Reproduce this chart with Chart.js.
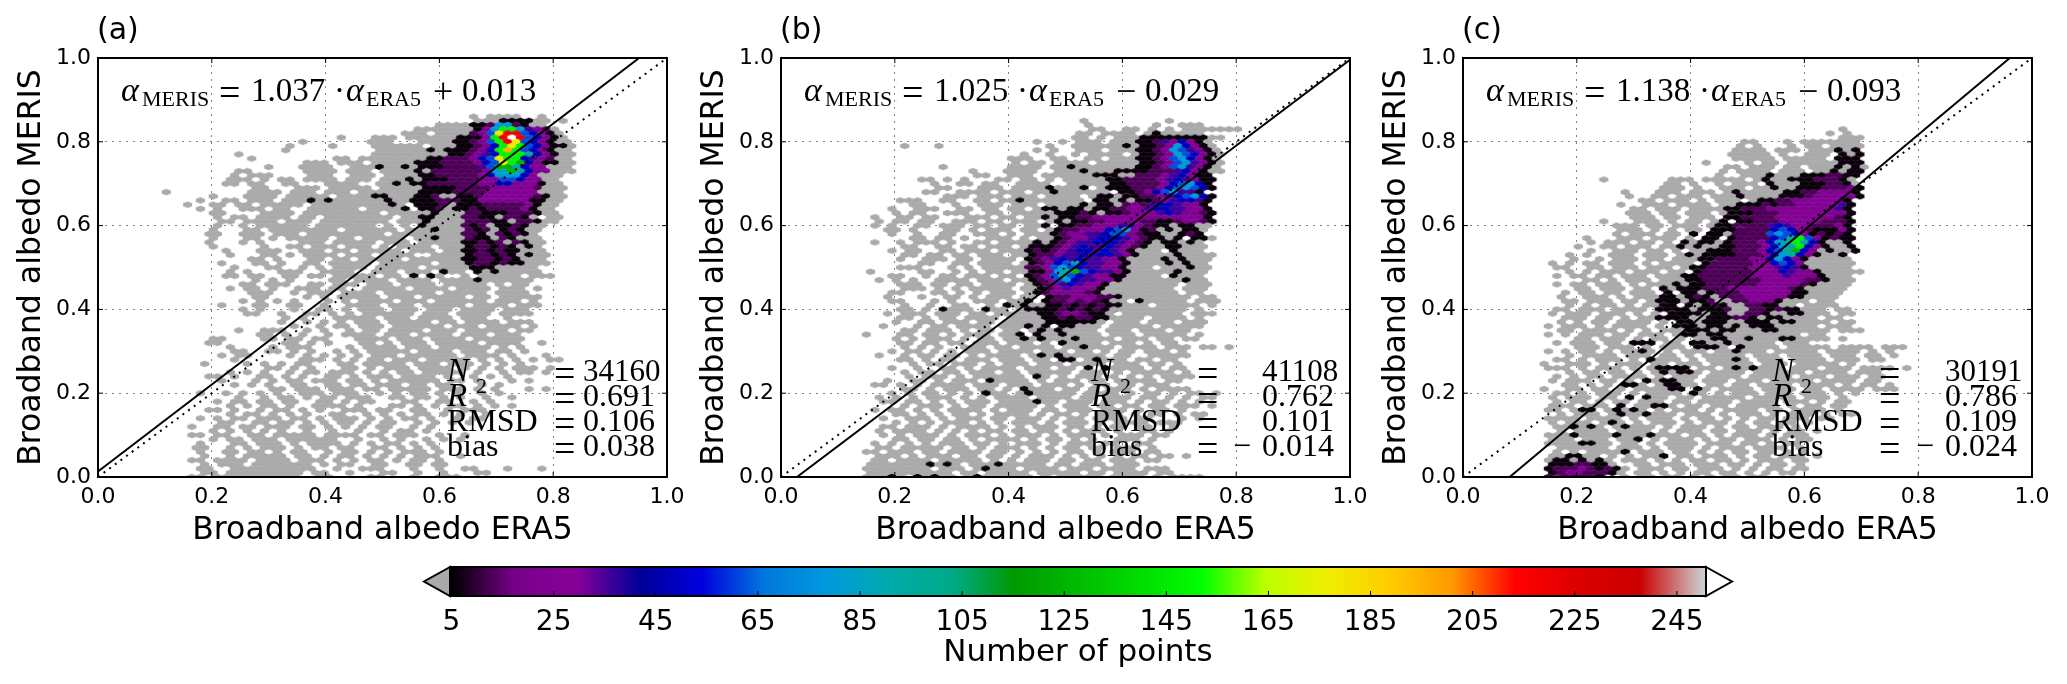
<!DOCTYPE html>
<html>
<head>
<meta charset="utf-8">
<title>Broadband albedo ERA5 vs MERIS</title>
<script src="https://cdn.jsdelivr.net/npm/chart.js@4"></script>
<style>
  body { margin: 0; background: #fff; width: 2067px; height: 684px; overflow: hidden; position: relative; }
  canvas { position: absolute; }
</style>
</head>
<body>
<canvas id="panelA" style="left:0;top:0"></canvas>
<canvas id="panelB" style="left:683px;top:0"></canvas>
<canvas id="panelC" style="left:1365px;top:0"></canvas>
<canvas id="colorbar" style="left:400px;top:540px"></canvas>
<script>
// ── Axes and labels ─────────────────────────────────────────────
const axisTicks = [0, 0.2, 0.4, 0.6, 0.8, 1];
const colorbarTicks = [5, 25, 45, 65, 85, 105, 125, 145, 165, 185, 205, 225, 245];
const panelLabels = ['(a)', '(b)', '(c)'];
const xTitle = 'Broadband albedo ERA5';
const yTitle = 'Broadband albedo MERIS';
const colorbarTitle = 'Number of points';

// ── Regression lines (end points on the unit box) ───────────────
const fitX = [[0, 0.951], [0.028, 1], [0.082, 0.961]];
const fitY = [[0.013, 1], [0, 0.996], [0, 1]];
const identity = [0, 1];

// ── Fit equation and statistics ─────────────────────────────────
const slopes = ['1.037', '1.025', '1.138'];
const offsetSigns = ['+', '\u2212', '\u2212'];
const offsets = ['0.013', '0.029', '0.093'];
const statN = ['34160', '41108', '30191'];
const statR2 = ['0.691', '0.762', '0.786'];
const statRmsd = ['0.106', '0.101', '0.109'];
const statBias = ['0.038', '0.014', '0.024'];
const statBiasSign = ['', '\u2212', '\u2212'];

// ── Hexbin counts ───────────────────────────────────────────────
// one string per bin row, top row (0.86) first, run-length coded,
// each letter stands for one of the count levels below, @n jumps to bin n
const levelNames = ['g', 'k', 'd', 'p', 'v', 'b', 'a', 's', 't', 'n', 'l', 'y', 'o', 'r', 'w'];
const levelCounts = [3, 6, 13, 25, 36, 48, 62, 80, 95, 125, 148, 178, 195, 218, 255];

const rowsA = [
  '36.g.4g2.g', '36.3g4k2g.g', '32.4g2kd2sdk2g', '29.7gkps2lsvpdg', '28.3g.4gdpay2rabpkg',
  '20.g3.3g.6g3kplrwrabpkg', // 0.81
  '16.g7.3g3.4g2kdpalryabpk2g', '14.g4.g4.6g.3g2kdpblylabp2kg', '14.g10.6gkg3kdpblolabpk2g', '8.g15.9g2kdpvb3ltbpk2g',
  '10.g9.2g.8g2k3dpbay2lbvpd2g', // 0.76
  '16.3g.3g.5g3k4dpbaylnbp2k2g', '12.g3.4g2.3gk2gkg3k4dva2ntb2p3g', '8.2g6.4g.3g.4gkg6dpstntb2p3g', '8.g.3g4.3g2.3g.4g2k5dpb3sbp3g',
  '7.3g.g.2g.4g.3g.3gkg3k4d2p2ab2p2g', // 0.71
  '7.2g.2g2.2g3.4g2.2gkg@29 2k6d2p2b3pk2g', '10.2g3.3g.5g.5g@30 4k4d5pd3g', 'g9.4g.3g.3g.7g@30 4k4d6p3g', '5.g3.4g.5g.4g2k3g@29 2kd2g2kd6pdk2g',
  '4.g2.2g.3g.3gkgk6gk2g@29 3k3d2k6p2k2g', // 0.66
  '2.g2.2g.2g.5g.9gkg@29 3kdg3k5dpk2g', '4.g.g2.3g.2g2.6g.4gk@30 2kdg2kdk4dpk2g', '5.2g4.4g.9g.5g@31 k3g2d3k3dk2g', '6.g.2g.4g.2g.8g.3g@30 2k3g2d2kg2dkg.2g',
  '6.2g.4g.3g.8g.3g@30 k4g3d2kg2dk2g', // 0.61
  '6.g2.g.6g.7g.g.g@30 k4gdkdg2kdk2g', '5.g3.2g.8g.6g.4g@31 k3gdkdgkdk2g', '5.2g2.3g.3g.9g.6g@32 3g2dkgdkdkg', '5.g3.2g.g.5g.2g.5g.3g@31 k3gd2kgdk3g',
  '5.g3.g.g4.3g.5g.3g.3g@32 3g2kdkdgdk2g', // 0.56
  '5.g5.g2.2g.3g.3g.g.4g.g@32 3gk2dkdkgkg', '7.g3.3g2.3g.2g.5g.3g.2g@33 2g2kdkd2k3g', '7.g3.2g.g.4g.3g.4g2.3g@33 2gk2dkdkgk2g', '10.2g.g3.2g.2g.5g.4g@33 2g2k2dkdk3g',
  '6.g3.2g.g2.2g.5g.6g.3g@35 k2dkd2k3g', // 0.51
  '8.g3.2g2.g.g.4g.5g.6g@36 3k5g', '7.g.g3.3g2.4g2.3g.3g.k2g@36 kgk5g', '7.2g.2g2.2g.2g.5g.2g.k.kg2.g.5g.3g', '10.g.g.g4.2g.4g.4g.4gk2g4g',
  '9.2g.3g2.2g.3g.3g.4g.5g.g.2g', // 0.46
  '7.g.2g.g2.3g.2g2.5g.4g.4g.3g.g', '10.3g2.g.3g.4g.6g.5g.4g', '10.2g4.g.g.5g.3g.5g.2g.5g', '9.g.g.g.g3.g.g.4g.3g.6g.3g.g',
  '6.g3.2g2.2g2.g2.4g.3g.5g.4g.3g', // 0.41
  '9.g.g3.g2.2g.g.3g.3g.3g.4g.3g', '9.2g2.g2.2g.g.g.6g.3g.4g.4g', '14.g.g3.5g.3g.4g.3g2.g', '13.g2.g.g.g.3g.5g.2g.4g.3g',
  '15.g2.g.2g.3g.6g.3g.4g.g', // 0.36
  '8.g2.3g2.g.g2.g.2g.4g.3g.5g.2g', '11.2g.g.g2.g.4g.3g.4g.3g.3g', '5.2g4.2g.2g.2g3.4g.3g.4g.6g', '5.2g7.2g.g.g3.2g.g.3g.5g.4g2.g',
  '7.g4.g.3g4.g.4g.3g.6g.g.g', // 0.31
  '8.2g2.2g.g.g2.g.g.5g.4g.3g.2g.g', '6.g.2g4.g.g.g.g.g.3g.6g.4g.g3.g', '8.g7.3g.g.g.2g.3g.5g.g.g.g.g.2g', '4.g4.g.g.g.2g3.2g.5g.3g.3g.g.g.g',
  '12.2g.g.g3.2g.g.3g.4g.g.g.g.3g.g', // 0.26
  '7.g.g.g2.g.2g.3g.g.g.2g.5g.g2.g.2g.g', '5.2g.g2.2g.g.g2.2g.g.3g.4g.g2.g.g.g', '6.g3.g.g.2g.3g.2g.g.6g.2g.g3.g.g', '8.g.g.g2.2g2.2g.2g.3g.2g.2g3.g.g',
  '12.2g.3g.3g.2g.5g.3g.g.g3.g.g', // 0.21
  '4.g2.g.g.g.g2.3g.3g2.g.g.2g.g.g2.g.g', '8.g2.g.2g.g.2g.3g2.2g.2g.g.g2.g2.g', '6.g.2g.2g.2g2.2g.g.2g3.2g2.2g2.g.g', '7.g.g.2g.g2.4g.g3.2g.g.g.2g.g.g.g',
  '5.2g.g2.g.2g.g.g2.3g.2g2.2g2.g.3g', // 0.16
  '7.g.2g.g.g.g2.2g2.g.g.g.2g.g.g2.g', '4.g.g.2g.3g.2g.g.3g.g.g.2g.g2.g.2g', '6.2g2.2g.2g.g.g.2g.g.2g2.g.g.g.g', '3.g2.2g.2g.3g.2g.g.g.g.2g2.g.g',
  '5.g.g.g.g.g2.g2.g2.g2.g.2g.g', // 0.11
  '3.2g.2g2.2g.5g.4g.2g.3g2.g2.g', '5.g.2g.3g.6g2.g2.g.g2.g.g.g', '4.g3.2g.3g.g.4g.g.g.2g.g.g', '3.2g2.g.g.3g.g.2g.2g2.2g.g.g.g',
  '4.g2.2g.2g.g.2g2.g.2g.g.g.3g.g', // 0.06
  '4.g2.g.5g.2g.g.2g.g.g.g.3g2.g', '3.2g.4g.4g.3g.g.g.2g.g.2g.g', '4.g.3g.7g.g.2g2.2g2.2g.2g', '4.2g2.10g2.g2.3g3.g2.g2.2g3.g3.g',
  '4.2g.9g.2g2.g3.2g2.g2.g3.2g', // 0.01
  '3.2g.10g2.2g4.2g3.g2.3g'
];

const rowsB = [
  '', '27.g9.g', '28.g7.g2.3g', '28.2g2.2g.g.g.7g', '27.2g.4g.gk5g',
  '26.2g.g.3g8k2g', // 0.81
  '22.g2.g.3g.3g2kdvpbpkg', '6.g3.g12.g2.6gkg2kdpsbpkg', '22.g.g2.3g.3g2kdpsavpkg', '20.g2.g2.g.4g.g2kdpsabpkg',
  '19.3g2.2g2.2g.3g2kdpasbpkg', // 0.76
  '19.g.2g.4g.5g2kdpasvpkg', '11.g7.4g.2gk7g2kdpasvpkg', '14.g3.4g2.3gk3g4k3dvbpk2g', '15.2g2.3g.6gk@30 2k2g3dpvbp2k',
  '8.2g.g.g3.2g.2g.g.6g.@29 g2k4dpvbvp2k', // 0.71
  '10.g2.2g.2g2.4g2.5g@31 2k4dpbasbk', '10.2g3.3g.4gk3gk@29 g3k3dpbasabk', '9.2g2.4g.3g.2gk6g@32 2kdpbas2vk', '11.3g.3g.3g.4g.3gkg@29 2kg2k2dpvbasbk',
  '6.3g2.2g2.2g.2gk7g@29 2kgkg2kdpv2bvk', // 0.66
  '7.2g3.g2.3g.3g.5g@27 kg2kgdpdv2bv2pk', '5.g2.3g2.2g.2g.2g.g@23 2kg2kg2k2d2pv2b2v2pk', '5.g.2g2.3g2.2g.5g@24 3kdkg2kd3pvbv2pdk', '3.g2.2g.2g3.3g.2g.2g@23 kg2k2d13pk',
  '3.g.2g.2g2.3g.2g.3g.g@24 kg2k2d4p2d2kd2pdk', // 0.61
  '3.g.g2.2g.3g.2g.2g.2g@23 k.2k2d3p2vpd2kg2k2g', '4.2g.g3.2g.g.3g.2g.2g.g@24 k2d3pbaspkdgkg2kg', '5.g2.g2.2g2.3g.g.3g@24 kd2p2vb2apd2k2gkdk', '7.2g.2g.g2.3g.g.3g@24 kd2pv3bvpd2kgk.2kg',
  '3.g2.g.3g.g2.2g.4g.g@22 k.kdp2v3bvpdkg2kgkg', // 0.56
  '6.2g2.2g.2g.3g.g@21 3kdpvb2vbvpdk2g2k3g', '5.g.2g2.2g.3g.3g@21 kdkdpv2bvbvpk3g.k3g', '6.2g.2g.2g.3g.2g@21 k2dp2vbv2bvpk4gk4g', '6.g2.3g.2g.4g.g@21 kdpvbvb2v2pk4gkgk3g',
  '8.2g2.2g.4g.g@21 kdpbasb2v2pk4gkgk2g', // 0.51
  '6.3g3.g.g.5g.g@21 2dpasab2v2pk3g.3gk2g', '2.g5.2g2.g.g.2g.2g.@21 2kpstnab2vpk5gk3g', '5.2g2.g.2g.3g.2g.g@21 kdpatabv2p2k4g.k3g', '3.g.g.g2.4g.3g.2g@21 kdpasb2v2pk7gk2g',
  '6.3g.2g.2g.4g.g@22 kdpvbv2pk8g.3g', // 0.46
  '6.3g.g.g.5g.3g@22 kdpv3pk8g.3g', '5.2g3.2g.g.g.3g.2g.@22 kd4pdk9g.2g', '4.g3.g2.2g.g.3g.2g.g@23 k2d3p2dk8g.2g', '5.2g3.g.g2.3g.3g.@21 k.k2dpdpdk2g.k5g.3g',
  '6.g2.g2.2g2.g.g@18 kgk2g@23 2kdkdkd2k2g@34 g.5g.g', // 0.41
  '6.2g.g@11 k3g.@16 k2g.g@21 k@22 3kdkdkd2k@31 9g.g', '4.g.3g.3g.2g.4g@21 g2kd2pd2k@30 g.7g.3g', '6.2g.g.2g.4g.4g@23 2kdk2d2k@31 4g.4g.g', '5.g2.2g.3g.2g.5g@23 6k@29 g.3g.3g.3g',
  '4.g3.g.2g.4g.3g.g@21 k.k.2k2g@29 g.5g.5g', // 0.36
  '6.2g.3g.g.2g.2g.4g@22 k.k4g.3g.3g.2g', '2.g3.2g.2g.g.3g.3g@20 k.k2gk4g.3g.5g.g', '5.g.g.3g.g.2g.4g.g@20 k.k.2gk4g.3g.2g.2g', '6.2g.2g.2g.3g.3g.g@25 k4g.3g.g.2g',
  '6.g.g.g2.3g.2g.4g.2g@27 k3g.4g.3g.2g.g', // 0.31
  '5.g.2g.g.g.3g.4g.3g.2g.g.2g.3g.g', '3.g2.g.2g.2g.g.4g.3g.5g.2g2.5g@22 k.k', '6.2g.g.2g.3g.3g.2g.2k.gk3g.2g.2g', '7.g.2g.3g.g.3g.3g.4g.3g.2g.g',
  '5.g2.g2.2g.g.4g.3g.2g.k.k4g.g.2g', // 0.26
  '6.g.2g.2g.3g.2g.5g.3g.g.5g.g', '7.g.3g.g.6g.kg.g.3g.g.g.g.4g', '4.g2.2g.g.3g.k4g.g.3g.2g.5g.2g', '3.2g.g.g.4g.3g.3g.3g.g.2g.2g.3g',
  '6.2g.g.3g.2g.g.k3g.2g.g.3g.g.4g', // 0.21
  '5.g.g.2g.g.g.3g.g.5g.4g.g.2g.g.2g.g@16 k@21 k', '3.g.g.g.3g.g.g.4g.4g.2g.3g.2g.g.g.2g', '4.2g.2g.g.g.3g.4gk2g.3g.3g.g.2g.g.g', '6.g.3g.g.2g.5g.g.3g.2g.2g.2g.3g.g',
  '3.g.2g.g.g.4g.g.3g.2g.3g.3g.g.2g.g', // 0.16
  '5.2g.g.g.2g.g.4g.g.2g.g.3g.g.2g.g.2g', '4.g2.3g.g.3g.2g.3g.g.2g.4g.2g3.g.g', '5.g.g.g.3g.g.g.3g.g.3g.g.4g.3g', '4.2g.3g.g.4g.g.g.3g.2g.g.2g.2g2.g',
  '3.g.4g.g.g.g.2g.2g.2g.g.3g.g2.2g.g', // 0.11
  '4.g.g.3g.g.3g.g.3g.g.3g.g.3g.2g', '5.2g.2g.2g.g.4g.g.2g.g.g2.3g.g', '3.g.g.g.g.3g.2g.g.3g.g.3g.2g2.2g', '3.2g.5g.2g.g.3g.g.g.2g.2g.3g.g',
  '2.2g.3g.2g.4g.2g.g.g.g.2g.g.3g.2g', // 0.06
  '3.3g.g.3g.2g.2g.g.3g.g.g.g.g.2g.2g.g', '3.2g.4g.5g.g.g.3g.2g.2g.3g.2g', '2.7gkgkg.3gk5g.2g.3g.3g', '2.8g.3g.gk3g.4g.3g.4g.3g',
  '2.10g.2g.5g.5g.2g.4g.2g', // 0.01
  '2.3gkg.kgk2g.gk6g.g.5g.4g.g.4g'
];

const rowsC = [
  '', '', '', '36.g', '35.g.g',
  '36.3g', // 0.81
  '25.2g3.g.3g@35 4g', '24.g.g3.g.2g@35 4g', '24.4g.3g.3g@36 kgk', '23.5g.g2.3g.g@36 kgk',
  '24.5g.5g.g@36 3k', // 0.76
  '20.g4.g.2g.5g@35 g3k', '23.2g.3g.2g.2g@35 gkgkg', '22.g.4g.3g.3g@34 gkg2k', '22.g2.3gk3g3k2d2k',
  '8.g7.3g.5g.gk2g3k3dkg', // 0.71
  '16.2g.g2.g.3g.g.g@28 k3g3k2dkg', '15.3g.g2.3g.2g@28 k2g3k3dpk', '11.g3.3g.3g.2g@24 k5g2k2d4pk', '11.g2.2g.3g.3g.2g@24 k4g3kd5pk',
  '13.2g.3g.g.3g.g.g.g@27 2k2d6pk', // 0.66
  '10.g2.3g.4g.2g@24 3kdk2d5pvk', '12.2g.3g.4g@23 2k3d8pvk', '11.3g.2g.3g.3g@23 3k3d8pk', '12.3g.2g.3g.2g@23 2k4d7pdk',
  '8.g3.3g.g.2g.2g@22 k.2k3d5p3dk', // 0.61
  '10.3g.2g.3g.2g@22 2k4dvbv2p3dpk', '10.3g.g.g.2g.2g.g@21 3k4dbabpd3kpk', '10.g.3g.2g.g.g@19 k.@21 2kg4dasabpkdkdk', '6.g3.3g.3g.g.g@20 2k.k4dbatlapkd2k',
  '7.g.3g.2g.g.2g@18 kg2kgk3dpbstltbk2gk', // 0.56
  '5.g2.2g.3g.3g@17 kgk2g2k3dpbstlbpk2gk', '7.g2.3g.2g.g.2g.g@21 3k3dpbatnbpgk2gk', '4.g.g2.3g.3g.g.2g@18 k.@20 4k3dpbstbpk2gk', '5.g2.g.3g.2g.3g.g@20 2k4d2pbsbpk5g',
  '2.g.g.2g.3g.g.4g.2g@20 k5d2pbabp6g', // 0.51
  '3.2g2.2g.3g.3g.2g@19 2k5d3pvbvk5g', '4.g.g.3g.3g.2g.g@19 k6d3pbv2pk5g', '3.g.2g.2g.3g.3g.g@18 2k6d4pv3pk3g', '6.2g.g.3g.3g@18 2k7d5p2dk3g',
  '3.g.2g.3g.g.4g.g@17 kg2k6d5pdk4g', // 0.46
  '5.2g.3g.2g.g@15 kg3k3d7pdk5g', '4.g.2g.2g.3g.g@16 k.2kgk3d6p2k4g', '3.g2.3g.g.4g.g@15 2kgkdkg3d5p2k4g', '4.2g.3g.2g.g@15 3kg2kd2g2d3pk3g.2g',
  '4.g.g.2g.g.3g@15 2k.kgkdk2g2d2k2g.4g', // 0.41
  '3.2g.3g.4g.g@15 4kg3kd2g2dkd2k3g.2g', '2.g.3g.3g.g.g.g@16 4kg2k2g2dk2g2k3g.2g', '4.3g.2g.g.3g@15 4k2g3k2dkg2k4g.2g', '3.g.g.2g.4g.g.3g@17 2kg3k2g3kg2k4g.2g',
  '2.g.3g.g.4g.g.3g@17 3kg2kgkg3k5g.3g', // 0.36
  '3.2g.4g.g.g.3g.g@18 3kg2k3g2k6g.3g', '2.g.g.3g.2g.3g.2g.g@18 2kg2k9g.2g', '5.2g.3g.g.2g.g.3g@21 2k2gk3g2k4g.g', '3.g.3g.2g.3g.2g.g@12 3k@19 2k2gk5g.3g',
  '5.3g.3g.g.3g.2g.g.5g.5g.4g.3g@19 3k@24 k', // 0.31
  '2.g.g.2g.g.4g.g.3g.2g.3g.5g.4g.g.g@13 k@24 k', '4.g.4g.3g.2g.g.5g.3g.4g.3g.2g.g', '3.2g.g.3g.g.4g.g.5g.3g.4g.3g.2g@14 k@24 k', '1.g2.3g.g.3g.2g.3g.5g.3g.5g.g',
  '2.3g.g.3g.g.g.3g.2g.3g.3g.3g.3g.4g.g@15 2k@17 2k@24 k.k', // 0.26
  '4.g.2g.2g.g.3g.2g.4g.6g.4g.3g@15 k@17 2k', '3.g.g.2g.4g.g.3g.4g.5g.3g.3g.2g', '2.g.3g.2g.g.2g.3g.3g.3g.5g.4g.2g@13 k.2k', '4.2g.g.g.3g.g.3g.2g.2g.4g.4g.g.2g.g@11 2k@16 2k',
  '.g2.2g.2g.g.4g.g.2g.4g.4g.2g.4g.3g@16 2k@19 k', // 0.21
  '3.2g.g.3g.g.4g.2g.g.3g.3g.3g.g.g@19 k', '2.g.3g.2g.g.3g.2g.5g.5g.3g.g@11 k.k', '3.g.2g.g.2g.3g.2g.4g.4g.3g.g.2g', '2.3g.3g.g.3g.g.2g.2g.5g.g.2g.2g@10 k@14 2k',
  '2.2g.3g.g.3g.g.3g.g.4g.2g.4g.g@6 2k@10 k@12 k', // 0.16
  '3.g.3g.g.2g.3g.3g.g.3g.g.3g.g.2g@10 k@13 k', '2.4g.4g.g.3g.g.2g.g.g.2g.3g.2g', '2.g.3g.3g.g.3g.g.3g.g.2g.2g.g@9 k', '3.6g.g.3g.g.3g.g.2g.3g.g@5 k@7 k@11 k',
  '3.g.4g.4g.g.3g.2g.3g.g.2g.g', // 0.11
  '2.3g.4g.3g.3g.2g.g.3g.g.3g@5 k@10 k@14 k', '2.3g.3g.3g.g.3g.g.2g.3g.g.2g@12 k', '2.5g.2g.2g.g.4g.3g.2g.g.2g@6 2k', '3.6g.3g.g.3g.g.3g.4g.g',
  '3.g.g.5g.3g.2g.g.g.2g.2g.g.g@11 k', // 0.06
  '2.2g2k2g.g.g.3g.2g.3g.g.2g.3g.g@15 k', '2.g2kgkgkg.3g.g.g.2g.2g.g.3g.2g', '2.3k2d2kg2.2g.3g.3g.2g.g.2g.g', '2.k3dpdkdkg.3g.2g.3g.g.g.2g.2g',
  '2.kd2p3dkg.2g.g.g.2g.2g.g.g.2g', // 0.01
  '2.dp4dk2.g.2g.2g.g.g.2g.2g'
];

// ── Colour map ──────────────────────────────────────────────────
const colormapStops = [
  [0, 0, 0], [119, 0, 136], [136, 0, 153], [0, 0, 153], [0, 0, 221], [0, 119, 221], [0, 153, 221],
  [0, 170, 170], [0, 170, 136], [0, 153, 0], [0, 187, 0], [0, 221, 0], [0, 255, 0], [187, 255, 0],
  [238, 238, 0], [255, 204, 0], [255, 153, 0], [255, 0, 0], [221, 0, 0], [204, 0, 0], [204, 204, 204]
];
const countMin = 5;
const countMax = 250;
const underColor = '#aaaaaa';
const overColor = '#ffffff';

function colorFor(count) {
  if (count < countMin) return underColor;
  if (count > countMax) return overColor;
  const t = (count - countMin) / (countMax - countMin) * (colormapStops.length - 1);
  const i = Math.min(Math.floor(t), colormapStops.length - 2);
  const c = colormapStops[i].map((v, k) => Math.round(v + (colormapStops[i + 1][k] - v) * (t - i)));
  return `rgb(${c[0]},${c[1]},${c[2]})`;
}

// ── Hex bins ────────────────────────────────────────────────────
const BIN_X0 = 0.12, BIN_DX = 0.015, BIN_DY = 0.01;
const HEX_W = 9.2, HEX_H = 6.4;
const hexSprites = {};

function hexSprite(count) {
  if (hexSprites[count]) return hexSprites[count];
  const c = document.createElement('canvas');
  c.width = Math.ceil(HEX_W) + 1;
  c.height = Math.ceil(HEX_H) + 1;
  const g = c.getContext('2d');
  const mx = c.width / 2, my = c.height / 2;
  g.fillStyle = colorFor(count);
  g.beginPath();
  g.moveTo(mx, my - HEX_H / 2);
  g.lineTo(mx + HEX_W / 2, my - HEX_H / 4);
  g.lineTo(mx + HEX_W / 2, my + HEX_H / 4);
  g.lineTo(mx, my + HEX_H / 2);
  g.lineTo(mx - HEX_W / 2, my + HEX_H / 4);
  g.lineTo(mx - HEX_W / 2, my - HEX_H / 4);
  g.closePath();
  g.fill();
  hexSprites[count] = c;
  return c;
}

function decodeRows(rows) {
  const pts = [];
  rows.forEach((row, idx) => {
    const j = rows.length - 1 - idx;
    let col = 0;
    for (const m of row.matchAll(/@(\d+)|(\d*)([^\d@\s])/g)) {
      if (m[1]) { col = +m[1]; continue; }
      const n = m[2] ? +m[2] : 1;
      for (let i = 0; i < n; i++, col++) {
        if (m[3] === '.') continue;
        pts.push({
          x: BIN_X0 + (col + (j % 2 ? 0.5 : 0)) * BIN_DX,
          y: j * BIN_DY,
          count: levelCounts[levelNames.indexOf(m[3])]
        });
      }
    }
  });
  return pts;
}

// ── Panel annotations ───────────────────────────────────────────
const SERIF = '"Liberation Serif", serif';
const SANS = '"DejaVu Sans", sans-serif';

function text(ctx, str, x, y, font) {
  ctx.font = font;
  ctx.fillText(str, x, y);
}

const panelAnnotations = {
  id: 'panelAnnotations',
  afterDatasetsDraw(chart, args, opts) {
    const { ctx, chartArea: a } = chart;
    ctx.save();
    // frame and inward ticks
    ctx.strokeStyle = '#000';
    ctx.lineWidth = 2;
    ctx.strokeRect(a.left, a.top, a.width, a.height);
    ctx.lineWidth = 1;
    ctx.beginPath();
    axisTicks.forEach(v => {
      const px = chart.scales.x.getPixelForValue(v), py = chart.scales.y.getPixelForValue(v);
      ctx.moveTo(px, a.bottom); ctx.lineTo(px, a.bottom - 5);
      ctx.moveTo(px, a.top); ctx.lineTo(px, a.top + 5);
      ctx.moveTo(a.left, py); ctx.lineTo(a.left + 5, py);
      ctx.moveTo(a.right, py); ctx.lineTo(a.right - 5, py);
    });
    ctx.stroke();

    const i = opts.index, L = a.left;
    ctx.fillStyle = '#000';
    ctx.textAlign = 'left';
    ctx.textBaseline = 'alphabetic';
    text(ctx, panelLabels[i], L - 1, 39, `30px ${SANS}`);

    // fit equation
    const eqY = 101;
    text(ctx, '\u03b1', L + 23, eqY, `italic 34px ${SERIF}`);
    text(ctx, 'MERIS', L + 44, eqY + 5, `22px ${SERIF}`);
    text(ctx, '=', L + 121, eqY + 4, `38px ${SERIF}`);
    text(ctx, slopes[i], L + 153, eqY, `33px ${SERIF}`);
    text(ctx, '\u00b7', L + 236, eqY, `33px ${SERIF}`);
    text(ctx, '\u03b1', L + 248, eqY, `italic 34px ${SERIF}`);
    text(ctx, 'ERA5', L + 268, eqY + 5, `22px ${SERIF}`);
    text(ctx, offsetSigns[i], L + 335, eqY + 2, `36px ${SERIF}`);
    text(ctx, offsets[i], L + 364, eqY, `33px ${SERIF}`);

    // statistics block
    const labelX = L + opts.labelX, eqX = L + opts.eqX, valX = L + opts.valX;
    const rowY = [381, 406, 431, 456];
    text(ctx, 'N', labelX, rowY[0], `italic 33px ${SERIF}`);
    text(ctx, 'R', labelX, rowY[1], `italic 33px ${SERIF}`);
    text(ctx, '2', labelX + 29, rowY[1] - 13, `22px ${SERIF}`);
    text(ctx, 'RMSD', labelX, rowY[2], `32px ${SERIF}`);
    text(ctx, 'bias', labelX, rowY[3], `32px ${SERIF}`);
    rowY.forEach(y => text(ctx, '=', eqX, y + 5, `38px ${SERIF}`));
    text(ctx, statN[i], valX, rowY[0], `31px ${SERIF}`);
    text(ctx, statR2[i], valX, rowY[1], `32px ${SERIF}`);
    text(ctx, statRmsd[i], valX, rowY[2], `32px ${SERIF}`);
    text(ctx, statBias[i], valX, rowY[3], `32px ${SERIF}`);
    if (statBiasSign[i]) text(ctx, statBiasSign[i], valX - 29, rowY[3], `32px ${SERIF}`);
    ctx.restore();
  }
};

function axisOptions(title, isX) {
  const scale = {
    type: 'linear',
    min: 0,
    max: 1,
    afterBuildTicks: s => { s.ticks = axisTicks.map(value => ({ value })); },
    grid: { color: '#808080', lineWidth: 1, drawTicks: false },
    border: { display: false, dash: [2, 5] },
    ticks: {
      color: '#000',
      font: { family: 'DejaVu Sans', size: 22 },
      padding: 7,
      maxRotation: 0,
      callback: v => v.toFixed(1)
    },
    title: {
      display: true,
      text: title,
      color: '#000',
      font: { family: 'DejaVu Sans', size: 31.5 },
      padding: isX ? { top: 0, bottom: 10 } : { top: 13, bottom: 0 }
    }
  };
  if (isX) scale.afterFit = s => { s.height = 83; };
  else scale.afterFit = s => { s.width = 98; };
  return scale;
}

function drawPanel(id, rows, i, labelX, eqX, valX) {
  const canvas = document.getElementById(id);
  canvas.width = 694;
  canvas.height = 560;
  new Chart(canvas, {
    type: 'scatter',
    data: {
      datasets: [
        {
          label: 'fit',
          data: fitX[i].map((x, k) => ({ x, y: fitY[i][k] })),
          showLine: true, borderColor: '#000', borderWidth: 2, pointRadius: 0, order: 0, clip: 0
        },
        {
          label: '1:1',
          data: identity.map(v => ({ x: v, y: v })),
          showLine: true, borderColor: '#000', borderWidth: 2, borderDash: [2, 5], pointRadius: 0, order: 1, clip: 0
        },
        {
          label: 'bins',
          data: decodeRows(rows),
          pointStyle: c => hexSprite(c.raw ? c.raw.count : 3),
          pointRadius: 4,
          order: 2,
          clip: 0
        }
      ]
    },
    options: {
      responsive: false,
      animation: false,
      events: [],
      layout: { padding: { top: 58, right: 27, left: 0, bottom: 0 } },
      plugins: {
        legend: { display: false },
        tooltip: { enabled: false },
        panelAnnotations: { index: i, labelX, eqX, valX }
      },
      scales: { x: axisOptions(xTitle, true), y: axisOptions(yTitle, false) }
    },
    plugins: [panelAnnotations]
  });
}

drawPanel('panelA', rowsA, 0, 349, 456, 485);
drawPanel('panelB', rowsB, 1, 310, 416, 481);
drawPanel('panelC', rowsC, 2, 309, 416, 482);

// ── Colour bar ──────────────────────────────────────────────────
const colorbarRange = [4.7, 250.7];

const colorbarFrame = {
  id: 'colorbarFrame',
  afterDatasetsDraw(chart) {
    const { ctx, chartArea: a, scales } = chart;
    const my = (a.top + a.bottom) / 2;
    ctx.save();
    ctx.strokeStyle = '#000';
    ctx.lineWidth = 2;
    ctx.fillStyle = underColor;
    ctx.beginPath();
    ctx.moveTo(a.left, a.top); ctx.lineTo(a.left - 26, my); ctx.lineTo(a.left, a.bottom); ctx.closePath();
    ctx.fill(); ctx.stroke();
    ctx.fillStyle = overColor;
    ctx.beginPath();
    ctx.moveTo(a.right, a.top); ctx.lineTo(a.right + 26, my); ctx.lineTo(a.right, a.bottom); ctx.closePath();
    ctx.fill(); ctx.stroke();
    ctx.strokeRect(a.left, a.top, a.width, a.height);
    ctx.lineWidth = 1;
    ctx.beginPath();
    colorbarTicks.forEach(v => {
      const px = scales.x.getPixelForValue(v);
      ctx.moveTo(px, a.bottom); ctx.lineTo(px, a.bottom - 5);
    });
    ctx.stroke();
    ctx.restore();
  }
};

(function drawColorbar() {
  const canvas = document.getElementById('colorbar');
  canvas.width = 1367;
  canvas.height = 144;
  new Chart(canvas, {
    type: 'bar',
    data: {
      labels: [''],
      datasets: [{
        data: [colorbarRange],
        barPercentage: 1,
        categoryPercentage: 1,
        backgroundColor: c => {
          const { chart } = c;
          if (!chart.chartArea) return '#000';
          const x = chart.scales.x;
          const g = chart.ctx.createLinearGradient(x.getPixelForValue(countMin), 0, x.getPixelForValue(countMax), 0);
          colormapStops.forEach((s, k) => g.addColorStop(k / (colormapStops.length - 1), `rgb(${s[0]},${s[1]},${s[2]})`));
          return g;
        }
      }]
    },
    options: {
      indexAxis: 'y',
      responsive: false,
      animation: false,
      events: [],
      layout: { padding: { left: 50, right: 61, top: 27, bottom: 0 } },
      plugins: { legend: { display: false }, tooltip: { enabled: false } },
      scales: {
        y: { display: false },
        x: {
          type: 'linear',
          min: colorbarRange[0],
          max: colorbarRange[1],
          afterBuildTicks: s => { s.ticks = colorbarTicks.map(value => ({ value })); },
          afterFit: s => { s.height = 88; },
          grid: { display: false },
          border: { display: false },
          ticks: {
            color: '#000',
            font: { family: 'DejaVu Sans', size: 28 },
            padding: 2,
            maxRotation: 0,
            autoSkip: false
          },
          title: {
            display: true,
            text: colorbarTitle,
            color: '#000',
            font: { family: 'DejaVu Sans', size: 31 },
            padding: { top: 0, bottom: 12 }
          }
        }
      }
    },
    plugins: [colorbarFrame]
  });
})();
</script>
</body>
</html>
